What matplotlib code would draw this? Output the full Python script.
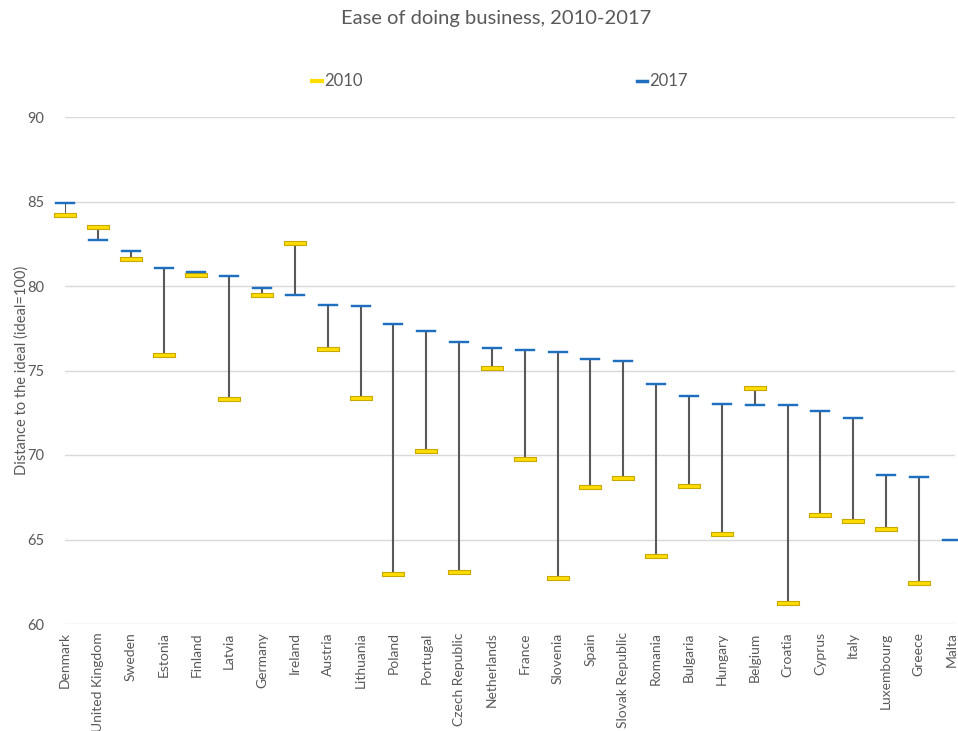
import matplotlib
matplotlib.use("Agg")
import matplotlib.pyplot as plt
import numpy as np
from matplotlib.path import Path
from matplotlib.lines import Line2D

countries = ["Denmark", "United Kingdom", "Sweden", "Estonia", "Finland", "Latvia",
             "Germany", "Ireland", "Austria", "Lithuania", "Poland", "Portugal",
             "Czech Republic", "Netherlands", "France", "Slovenia", "Spain",
             "Slovak Republic", "Romania", "Bulgaria", "Hungary", "Belgium",
             "Croatia", "Cyprus", "Italy", "Luxembourg", "Greece", "Malta"]
v2010 = [84.2, 83.5, 81.6, 75.9, 80.65, 73.3, 79.45, 82.55, 76.3, 73.4, 62.95, 70.25,
         63.1, 75.15, 69.75, 62.7, 68.1, 68.65, 64.0, 68.15, 65.35, 73.95, 61.25, 66.45,
         66.1, 65.6, 62.4, np.nan]
v2017 = [84.9, 82.7, 82.1, 81.05, 80.8, 80.6, 79.9, 79.47, 78.9, 78.8, 77.75, 77.35,
         76.7, 76.35, 76.2, 76.1, 75.7, 75.55, 74.2, 73.5, 73.0, 72.95, 72.95, 72.6,
         72.2, 68.8, 68.7, 65.0]
yticks = [60, 65, 70, 75, 80, 85, 90]

plt.rcParams["font.family"] = ["Lato", "DejaVu Sans"]

gray = "#595959"
yellow = "#FFDD00"
yellow_edge = "#C9A800"
blue = "#1F6FBF"

fig = plt.figure(figsize=(9.58, 7.31), dpi=100)
ax = fig.add_axes([65/958, (731-624)/731, (955-65)/958, (624-117)/731])

x = np.arange(len(countries))
a = np.array(v2010, dtype=float)
b = np.array(v2017, dtype=float)
mask = ~np.isnan(a)
ax.vlines(x[mask], a[mask], b[mask], color=gray, lw=1.5, zorder=2)

rect_y = Path([(-1, -0.2), (1, -0.2), (1, 0.2), (-1, 0.2), (-1, -0.2)],
              [Path.MOVETO, Path.LINETO, Path.LINETO, Path.LINETO, Path.CLOSEPOLY])
rect_b = Path([(-1, -0.13), (1, -0.13), (1, 0.13), (-1, 0.13), (-1, -0.13)],
              [Path.MOVETO, Path.LINETO, Path.LINETO, Path.LINETO, Path.CLOSEPOLY])

ax.plot(x, a, linestyle="none", marker=rect_y, markersize=16, markerfacecolor=yellow,
        markeredgecolor=yellow_edge, markeredgewidth=0.8, zorder=3, clip_on=False, label="2010")
ax.plot(x, b, linestyle="none", marker=rect_b, markersize=14.5, markerfacecolor=blue,
        markeredgecolor=blue, markeredgewidth=0.3, zorder=4, clip_on=False, label="2017")

ax.set_ylim(60, 90)
ax.set_xlim(0.03, 27.1)
ax.set_yticks(yticks)
ax.grid(axis="y", color="#D9D9D9", lw=1)
ax.set_axisbelow(True)
for s in ax.spines.values():
    s.set_visible(False)
ax.tick_params(axis="both", length=0, colors=gray, labelsize=10.5)
ax.tick_params(axis="y", pad=15)
ax.set_xticks(x)
ax.set_xticklabels(countries, rotation=90, fontsize=10, color=gray, va="top", ha="center")
ax.tick_params(axis="x", pad=6)
ax.set_ylabel("Distance to the ideal (ideal=100)", fontsize=10.5, color=gray)
ax.yaxis.set_label_coords(-0.041, 0.5)

fig.text(0.518, 0.975, "Ease of doing business, 2010-2017", ha="center", va="center",
         fontsize=14.5, color=gray)

fig.add_artist(Line2D([312/958, 322/958], [(731-81)/731]*2, color=yellow, lw=3))
fig.text(324/958, (731-81)/731, "2010", fontsize=12, color=gray, va="center")
fig.add_artist(Line2D([637/958, 647/958], [(731-81)/731]*2, color=blue, lw=2.5))
fig.text(649/958, (731-81)/731, "2017", fontsize=12, color=gray, va="center")

fig.savefig("out.png", dpi=100, facecolor="white")
